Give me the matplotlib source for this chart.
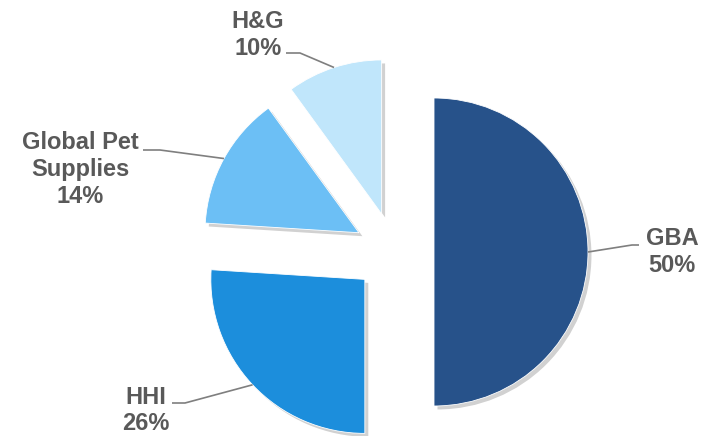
import numpy as np
import matplotlib
matplotlib.use("Agg")
import matplotlib.pyplot as plt
import matplotlib.patheffects as pe

categories = ["GBA", "HHI", "Global Pet Supplies", "H&G"]
values = [50, 26, 14, 10]
label_lines = [["GBA"], ["HHI"], ["Global Pet", "Supplies"], ["H&G"]]
colors = ["#27528A", "#1C8EDC", "#6CBFF5", "#C0E6FB"]

W, H = 711, 436
fig = plt.figure(figsize=(W / 100, H / 100), dpi=100)
ax = fig.add_axes([0, 0, 1, 1])

cx, cy, R = 394, H - 252, 154
gap = 40  # explode offset in data (pixel) units
wedges, _ = ax.pie(values, colors=colors, startangle=90, counterclock=False,
                   explode=[gap] * len(values), center=(cx, cy), radius=R,
                   wedgeprops=dict(edgecolor="#ffffff", linewidth=0.6))
for w, c in zip(wedges, colors):
    w.set_path_effects([pe.SimplePatchShadow(offset=(2.5, -2.5), shadow_rgbFace="#000000", alpha=0.18),
                        pe.Normal()])

ax.set_xlim(0, W)
ax.set_ylim(0, H)
ax.set_aspect("equal")
ax.axis("off")

# label layout (pixel coords from top): text center x, first line y, leader text-side points
label_pos = [(672, 238), (146, 397), (80, 142), (258, 21)]
leader_pts = [[(639, 245), (632, 245)], [(172, 403), (185, 403)],
              [(143, 150), (160, 150)], [(286, 53), (300, 53)]]
pitch = 27
txtcol = "#595959"
for w, v, lines, (tx, ty), pts in zip(wedges, values, label_lines, label_pos, leader_pts):
    all_lines = lines + [f"{v}%"]
    for i, s in enumerate(all_lines):
        ax.text(tx, H - (ty + i * pitch), s, ha="center", va="center",
                fontsize=17, fontweight="bold", color=txtcol,
                family=["Liberation Sans", "DejaVu Sans"])
    mid = np.deg2rad((w.theta1 + w.theta2) / 2)
    ex = w.center[0] + w.r * np.cos(mid)
    ey = w.center[1] + w.r * np.sin(mid)
    xs = [p[0] for p in pts] + [ex]
    ys = [H - p[1] for p in pts] + [ey]
    ax.plot(xs, ys, color="#7f7f7f", linewidth=1.2, solid_capstyle="butt")

fig.savefig("out.png", dpi=100)
